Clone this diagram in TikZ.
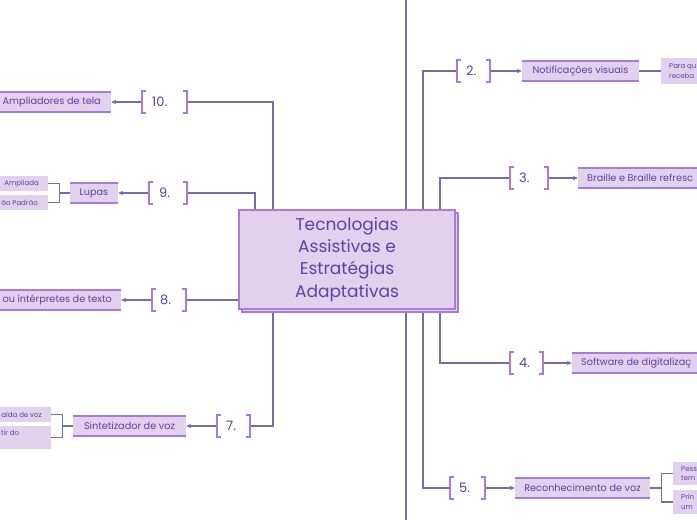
\documentclass[tikz,border=0pt]{standalone}
\usepackage{fontspec}
\setmainfont{Poppins}
\usetikzlibrary{arrows.meta,fit}
\definecolor{linec}{HTML}{7070A8}
\definecolor{fillc}{HTML}{E2D1EC}
\definecolor{bordc}{HTML}{A67BDB}
\definecolor{textc}{HTML}{5E40A8}
\newcommand\fsz[2]{\fontsize{#1pt}{#2pt}\selectfont}
\newcommand\edges[1]{\draw[edge] (#1.north west) -- (#1.north east) (#1.south west) -- (#1.south east);}
\newcommand\brackets[1]{%
  \draw[brk] ([xshift=4pt]#1.north west) -- (#1.north west) -- (#1.south west) -- ([xshift=4pt]#1.south west);
  \draw[brk] ([xshift=-4pt]#1.north east) -- (#1.north east) -- (#1.south east) -- ([xshift=-4pt]#1.south east);}
\begin{document}
\begin{tikzpicture}[x=1pt,y=-1pt,
  conn/.style={draw=linec, line width=1.2pt},
  arr/.style={conn, -{Stealth[length=5pt,width=4.5pt]}},
  box/.style={fill=fillc, inner sep=0pt},
  leaf/.style={fill=fillc, inner sep=0pt},
  edge/.style={draw=bordc, line width=1.6pt},
  brk/.style={draw=bordc, line width=1.6pt},
  numb/.style={inner sep=0pt},
  num/.style={text=textc, font=\fsz{13}{15}, inner sep=0pt},
  tt/.style={text=textc, font=\fsz{9.7}{11.6}, inner sep=0pt},
  small/.style={text=textc, font=\fsz{7}{9.5}, inner sep=0pt, align=left},
  ctext/.style={text=textc, font=\fsz{17}{22.3}, inner sep=0pt, align=center},
  central/.style={fill=fillc, draw=bordc, line width=1.5pt, inner sep=0pt}]
\useasboundingbox (0,0) rectangle (697,520);
\clip (0,0) rectangle (697,520);
\fill[white] (0,0) rectangle (697,520);

% helper coordinates (x positions of vertical trunks, edges of the page)
\coordinate (top) at (406,0);
\coordinate (bot) at (406,520);
\coordinate (x273) at (273,0);
\coordinate (x255) at (255,0);
\coordinate (x423) at (423,0);
\coordinate (x440) at (440,0);

% central node geometry
\node (c) [inner sep=0pt, fit={(239,210) (455,309)}] {};

% ---------- left side ----------
% 10
\node (b10) [numb, fit={(142,91) (187,113)}] {};
\node (l10) [num, anchor=west] at (152,102) {10.};
\node (n10) [box, fit={(0,92) (111,112)}] {};
\node (t10) [tt, anchor=east] at (101,102) {Ampliadores de tela};
% 9
\node (b9) [numb, fit={(149,182) (187,204)}] {};
\node (l9) [num, anchor=west] at (159,193) {9.};
\node (n9) [box, fit={(70,183) (118,203)}] {};
\node (t9) [tt] at (n9.center) {Lupas};
\node (c9a) [leaf, fit={(0,176) (48,191)}] {};
\node (t9a) [small, anchor=east] at (39,183.5) {Ampliada};
\node (c9b) [leaf, fit={(0,195) (48,210)}] {};
\node (t9b) [small, anchor=east] at (38,202.5) {ão Padrão};
% 8
\node (b8) [numb, fit={(152,289) (186,311)}] {};
\node (l8) [num, anchor=west] at (160,300) {8.};
\node (n8) [box, fit={(0,290) (121,310)}] {};
\node (t8) [tt, anchor=east] at (112,300) {ou intérpretes de texto};
% 7
\node (b7) [numb, fit={(217,415) (250,437)}] {};
\node (l7) [num, anchor=west] at (226,426) {7.};
\node (n7) [box, fit={(73,416) (186,436)}] {};
\node (t7) [tt] at (n7.center) {Sintetizador de voz};
\node (c7a) [leaf, fit={(0,407) (51,422)}] {};
\node (t7a) [small, anchor=east] at (42,414.5) {aída de voz};
\node (c7b) [leaf, fit={(0,426) (51,449)}] {};
\node (t7b) [small, anchor=west] at (1,433) {tir do};

% ---------- right side ----------
% 2
\node (b2) [numb, fit={(457,60) (490,82)}] {};
\node (l2) [num, anchor=west] at (466,71) {2.};
\node (n2) [box, fit={(522,61) (639,81)}] {};
\node (t2) [tt] at (n2.center) {Notificações visuais};
\node (c2a) [leaf, fit={(661,58) (697,84)}] {};
\node (t2a) [small, anchor=west] at (669,71) {Para qu\\receba};
% 3
\node (b3) [numb, fit={(510,167) (548,189)}] {};
\node (l3) [num, anchor=west] at (519,178) {3.};
\node (n3) [box, fit={(578,168) (697,188)}] {};
\node (t3) [tt, anchor=west] at (587,178) {Braille e Braille refresc};
% 4
\node (b4) [numb, fit={(510,352) (543,374)}] {};
\node (l4) [num, anchor=west] at (519,363) {4.};
\node (n4) [box, fit={(572,353) (697,373)}] {};
\node (t4) [tt, anchor=west] at (581,363) {Software de digitalizaç};
% 5
\node (b5) [numb, fit={(450,477) (485,499)}] {};
\node (l5) [num, anchor=west] at (459,488) {5.};
\node (n5) [box, fit={(515,478) (650,498)}] {};
\node (t5) [tt] at (n5.center) {Reconhecimento de voz};
\node (c5a) [leaf, fit={(673,462) (697,485)}] {};
\node (t5a) [small, anchor=west] at (681,473.5) {Pess\\tem};
\node (c5b) [leaf, fit={(673,490) (697,514)}] {};
\node (t5b) [small, anchor=west] at (681,502) {Prin\\um};

% ---------- connectors ----------
\draw[conn] (c.north -| top) -- (top);
\draw[conn] (c.south -| bot) -- (bot);
\draw[conn] (c.north -| x273) |- (b10.east);
\draw[conn] (c.north -| x255) |- (b9.east);
\draw[conn] (c.west |- b8.east) -- (b8.east);
\draw[conn] (c.south -| x273) |- (b7.east);
\draw[conn] (c.north -| x423) |- (b2.west);
\draw[conn] (c.north -| x440) |- (b3.west);
\draw[conn] (c.south -| x440) |- (b4.west);
\draw[conn] (c.south -| x423) |- (b5.west);

\draw[arr] (b10.west) -- (n10.east);
\draw[arr] (b9.west) -- (n9.east);
\draw[arr] (b8.west) -- (n8.east);
\draw[arr] (b7.west) -- (n7.east);
\draw[arr] (b2.east) -- (n2.west);
\draw[arr] (b3.east) -- (n3.west);
\draw[arr] (b4.east) -- (n4.west);
\draw[arr] (b5.east) -- (n5.west);

\draw[conn] (n9.west) -- ++(-10,0) coordinate (j9) |- (c9a.east);
\draw[conn] (j9) |- (c9b.east);
\draw[conn] (n7.west) -- ++(-10,0) coordinate (j7) |- (c7a.east);
\draw[conn] (j7) |- (c7b.east);
\draw[conn] (n2.east) -- (c2a.west);
\draw[conn] (n5.east) -- ++(11,0) coordinate (j5) |- (c5a.west);
\draw[conn] (j5) |- (c5b.west);

% ---------- central box on top ----------
\node (cs) [central, fit={(242,213) (458,312)}] {};
\node (cbox) [central, fit={(239,210) (455,309)}] {};
\node (ct) [ctext] at (cbox.center) {Tecnologias\\Assistivas e\\Estratégias\\Adaptativas};

% borders and brackets
\edges{n10} \edges{n9} \edges{n8} \edges{n7}
\edges{n2} \edges{n3} \edges{n4} \edges{n5}
\brackets{b10} \brackets{b9} \brackets{b8} \brackets{b7}
\brackets{b2} \brackets{b3} \brackets{b4} \brackets{b5}
\end{tikzpicture}
\end{document}
